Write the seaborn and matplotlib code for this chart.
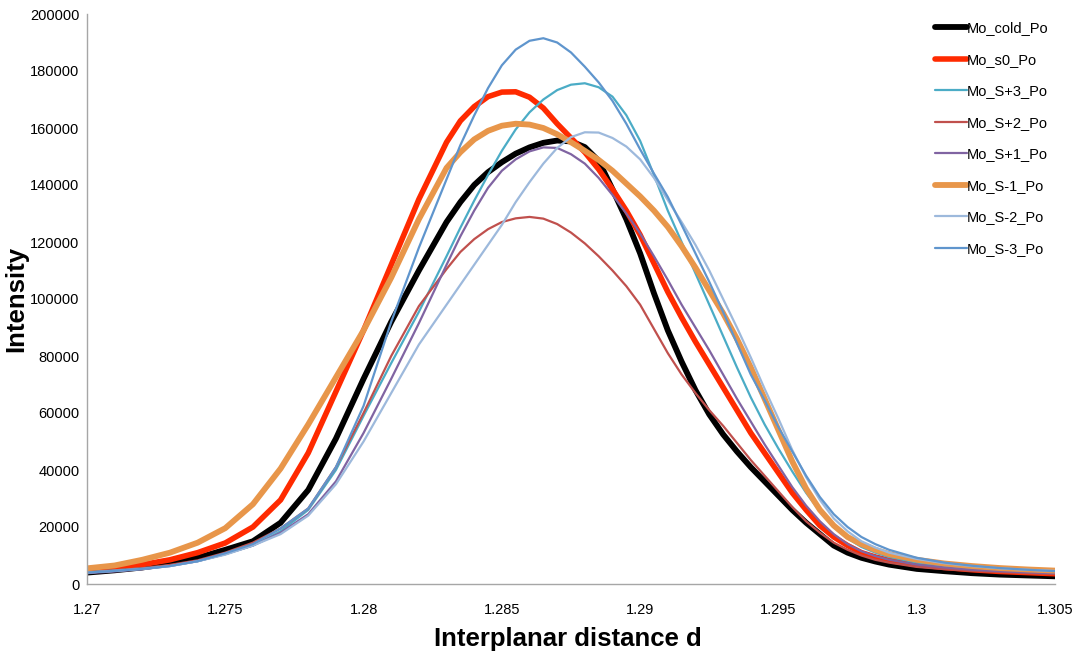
import numpy as np
import pandas as pd
import matplotlib
matplotlib.use("Agg")
import matplotlib.pyplot as plt
import seaborn as sns
from matplotlib.ticker import FuncFormatter

# ---- data ----
d = [1.270, 1.271, 1.272, 1.273, 1.274, 1.275, 1.276, 1.277, 1.278, 1.279,
     1.280, 1.281, 1.282, 1.283,
     1.2835, 1.284, 1.2845, 1.285, 1.2855, 1.286, 1.2865, 1.287, 1.2875, 1.288,
     1.2885, 1.289, 1.2895, 1.290, 1.2905, 1.291, 1.2915, 1.292, 1.2925, 1.293,
     1.2935, 1.294, 1.2945, 1.295, 1.2955, 1.296, 1.2965, 1.297, 1.2975, 1.298,
     1.2985,
     1.299, 1.300, 1.301, 1.302, 1.303, 1.304, 1.305]

mo_cold_po = [4000, 4800, 5800, 7200, 9200, 12000, 15000, 21500, 33000, 51000,
              72000, 92000, 110000, 127000,
              134000, 140000, 144500, 148000, 151000, 153200, 154800, 155600, 155300, 153300,
              148500, 138500, 128000, 116000, 102000, 89000, 78000, 68000, 59500, 52500,
              46500, 41000, 36000, 31000, 26000, 21500, 17500, 13500, 11000, 9200,
              7900,
              6800, 5300, 4500, 3800, 3300, 3000, 2700]
mo_s0_po = [4500, 5500, 6800, 8500, 11000, 14400, 20000, 29500, 46000, 67500,
            89000, 112000, 135000, 155000,
            162500, 167500, 171000, 172600, 172700, 170800, 167000, 161500, 156500, 151500,
            145500, 138500, 131000, 122500, 112500, 102500, 93500, 85000, 77000, 69000,
            61000, 53000, 46000, 39000, 32000, 26000, 20500, 16500, 13500, 11000,
            9500,
            8300, 6800, 5800, 5000, 4400, 4000, 3600]
mo_sp3_po = [4200, 4800, 5500, 6500, 8000, 10500, 13500, 18500, 26000, 40000,
             59000, 77500, 95500, 115000,
             125000, 134500, 143500, 152000, 159500, 165500, 170000, 173300, 175200, 175700,
             174300, 171000, 164500, 155500, 143500, 131000, 120000, 109000, 98000, 87000,
             76000, 65500, 56000, 47500, 39500, 32000, 25500, 20000, 16000, 13000,
             11000,
             9500, 7500, 6300, 5500, 4900, 4500, 4200]
mo_sp2_po = [4000, 4700, 5500, 6700, 8300, 11000, 14500, 19500, 26500, 41000,
             60000, 80000, 97500, 110500,
             116500, 121000, 124500, 127000, 128300, 128800, 128200, 126300, 123300, 119500,
             115000, 110000, 104500, 98000, 89500, 81000, 73500, 67000, 61000, 55500,
             49500, 43500, 38000, 32500, 27000, 22000, 18000, 14500, 12000, 10000,
             8500,
             7500, 6000, 5200, 4600, 4200, 3800, 3500]
mo_sp1_po = [3800, 4400, 5200, 6300, 8000, 10500, 13500, 18000, 24500, 36000,
             53000, 72000, 91500, 112000,
             122000, 131000, 139000, 145000, 149000, 151800, 153200, 153000, 150800, 147500,
             142500, 136500, 130000, 123000, 115000, 106700, 98000, 90000, 82000, 73500,
             65000, 57000, 49000, 41500, 34000, 27500, 22000, 17500, 14000, 11500,
             9800,
             8500, 6800, 5800, 5000, 4500, 4100, 3800]
mo_sm1_po = [5500, 6500, 8500, 11000, 14500, 19600, 28000, 40500, 56000, 72500,
             89000, 107500, 128000, 146000,
             151500, 156000, 159000, 160800, 161500, 161200, 160000, 157800, 155000, 152000,
             148800, 145000, 140500, 136000, 131000, 125300, 118500, 111000, 103000, 95000,
             86000, 76000, 65000, 54000, 43000, 33500, 26000, 20500, 16500, 14000,
             12000,
             10500, 8500, 7200, 6300, 5600, 5100, 4700]
mo_sm2_po = [4000, 4600, 5300, 6300, 8000, 10300, 13500, 17500, 24000, 35000,
             50000, 67000, 84000, 98000,
             105000, 112000, 119000, 126000, 134000, 141000, 147500, 153000, 156800, 158500,
             158400, 156500, 153500, 149000, 142500, 134700, 127000, 119000, 110000, 100000,
             90000, 79500, 68500, 58000, 47000, 37500, 29500, 23000, 18500, 15000,
             12800,
             11000, 8800, 7300, 6300, 5500, 5000, 4600]
mo_sm3_po = [4000, 4600, 5300, 6300, 8000, 10800, 14000, 19500, 26500, 41000,
             62500, 92000, 118000, 142000,
             154000, 164400, 174000, 182000, 187500, 190600, 191500, 190000, 186500, 181500,
             176000, 169500, 161500, 152500, 144000, 135800, 126000, 116000, 106000, 95500,
             84500, 73500, 64500, 55000, 46500, 38000, 30500, 24500, 20000, 16500,
             14000,
             12000, 9200, 7500, 6400, 5600, 5000, 4500]

series_names = ["Mo_cold_Po", "Mo_s0_Po", "Mo_S+3_Po", "Mo_S+2_Po",
                "Mo_S+1_Po", "Mo_S-1_Po", "Mo_S-2_Po", "Mo_S-3_Po"]
series_values = [mo_cold_po, mo_s0_po, mo_sp3_po, mo_sp2_po,
                 mo_sp1_po, mo_sm1_po, mo_sm2_po, mo_sm3_po]

x_ticks = [1.27, 1.275, 1.28, 1.285, 1.29, 1.295, 1.3, 1.305]
y_ticks = [0, 20000, 40000, 60000, 80000, 100000, 120000, 140000, 160000, 180000, 200000]

# ---- styling ----
colors = ["#000000", "#FF2A00", "#4BACC6", "#C0504D",
          "#8064A2", "#E8964A", "#9DB9DC", "#5F95CD"]
widths = [4.2, 4.0, 1.6, 1.6, 1.6, 4.2, 1.6, 1.6]

frames = []
for name, vals in zip(series_names, series_values):
    frames.append(pd.DataFrame({"d": d, "Intensity": vals, "series": name}))
df = pd.concat(frames, ignore_index=True)

sns.set_style("white")
plt.rcParams["font.family"] = ["Liberation Sans", "DejaVu Sans"]
plt.rcParams["text.color"] = "#000000"
plt.rcParams["axes.labelcolor"] = "#000000"

fig = plt.figure(figsize=(10.76, 6.57), dpi=100)
ax = fig.add_axes([87 / 1076, 1 - 584 / 657, (1055 - 87) / 1076, (584 - 14) / 657])

for name, col, lw in zip(series_names, colors, widths):
    sub = df[df["series"] == name]
    sns.lineplot(data=sub, x="d", y="Intensity", color=col, linewidth=lw,
                 label=name, ax=ax, solid_capstyle="round", solid_joinstyle="round",
                 estimator=None, sort=False)

ax.set_xlim(1.27, 1.305)
ax.set_ylim(0, 200000)
ax.set_xticks(x_ticks)
ax.set_yticks(y_ticks)
ax.xaxis.set_major_formatter(FuncFormatter(lambda v, p: f"{v:g}"))
ax.yaxis.set_major_formatter(FuncFormatter(lambda v, p: f"{int(round(v))}"))

for s in ["top", "right"]:
    ax.spines[s].set_visible(False)
for s in ["left", "bottom"]:
    ax.spines[s].set_color("#A6A6A6")
    ax.spines[s].set_linewidth(1.0)

ax.tick_params(axis="both", which="major", direction="inout", length=9, width=1.0,
               color="#A6A6A6", labelsize=10.5, labelcolor="#000000")
ax.tick_params(axis="x", pad=9)
ax.tick_params(axis="y", pad=1)

ax.set_xlabel("Interplanar distance d", fontsize=18.5, fontweight="bold", color="#000000")
ax.set_ylabel("Intensity", fontsize=18.5, fontweight="bold", color="#000000")
ax.xaxis.set_label_coords(0.497, -0.076)
ax.yaxis.set_label_coords(-0.0605, 0.5)

leg = ax.legend(loc="upper left", bbox_to_anchor=(0.865, 1.005), frameon=False,
                fontsize=10.5, handlelength=2.2, handletextpad=0.0,
                labelspacing=1.2, borderaxespad=0.3)
for t in leg.get_texts():
    t.set_color("#000000")

fig.savefig("out.png", dpi=100)
